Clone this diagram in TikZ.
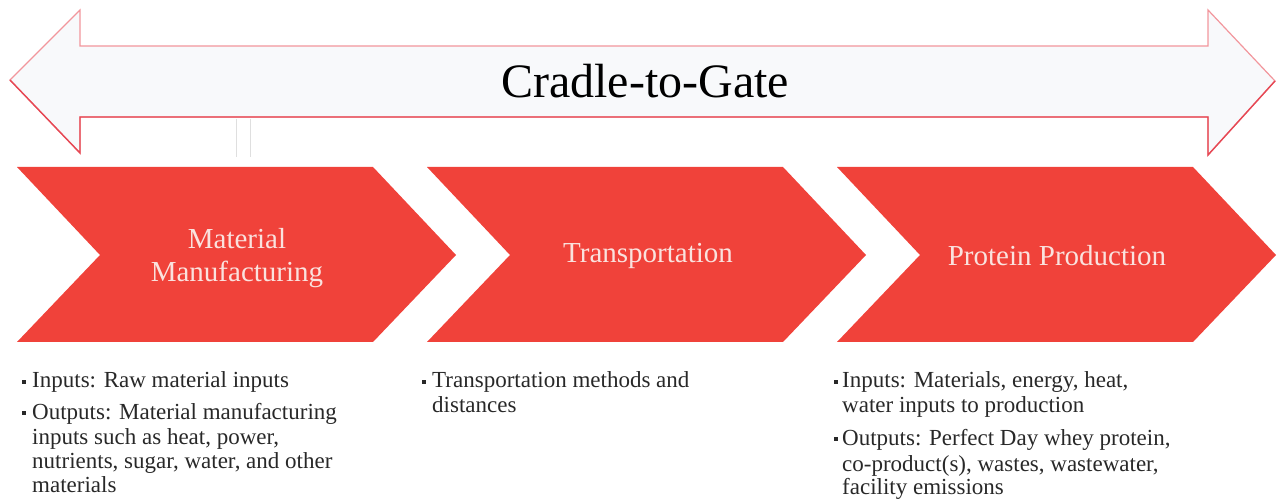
\documentclass[tikz,border=0pt]{standalone}
\usepackage{fontspec}
\setmainfont{Liberation Serif}
\definecolor{chev}{RGB}{240,66,58}
\definecolor{arrline}{RGB}{242,150,156}
\definecolor{arrdark}{RGB}{230,72,84}
\definecolor{arrfill}{RGB}{248,249,251}
\definecolor{chevtext}{RGB}{250,226,222}
\definecolor{bodytext}{RGB}{40,40,40}
\begin{document}
\begin{tikzpicture}[x=1pt,y=-1pt,
  chevron/.style={fill=chev,draw=none},
  chevlabel/.style={text=chevtext,font=\fontsize{29}{33}\selectfont,align=center,inner sep=0},
  bodyline/.style={text=bodytext,font=\fontsize{23}{25.5}\selectfont,anchor=base west,inner sep=0},
  bulletmark/.style={fill=bodytext,minimum size=3.6pt,inner sep=0,draw=none}
]
\useasboundingbox (0,0) rectangle (1277,502);
% double arrow
\draw[draw=arrline,fill=arrfill,line width=1.2pt,line join=miter]
  (10,80) -- (80,10) -- (80,46) -- (1208,46) -- (1208,10) -- (1275,81)
  -- (1208,155) -- (1208,117) -- (80,117) -- (80,153) -- cycle;
\draw[draw=arrdark,line width=1.4pt,line join=miter]
  (1275,81) -- (1208,155) -- (1208,117) -- (80,117) -- (80,153) -- (10,80);
\node[font=\fontsize{48}{52}\selectfont,anchor=base,inner sep=0] (title) at (645,98) {Cradle-to-Gate};
% faint marks
\draw[gray!25,line width=0.8pt] (236,119) -- (236,157);
\draw[gray!25,line width=0.8pt] (250,119) -- (250,157);
% chevrons
\foreach \i/\x in {1/17,2/427,3/837}{
  \fill[chevron] (\x,167) -- (\x+356,167) -- (\x+439,255) -- (\x+356,342) -- (\x,342) -- (\x+83,255) -- cycle;
}
\node[chevlabel] (c1) at (237,258) {Material\\Manufacturing};
\node[chevlabel] (c2) at (648,256) {Transportation};
\node[chevlabel] (c3) at (1057,256) {Protein Production};
% block 1
\node[bulletmark] (b1a) at (24,382) {};
\node[bodyline] (t1a) at (32,388) {Inputs: Raw material inputs};
\node[bulletmark] (b1b) at (24,413) {};
\node[bodyline] (t1b) at (32,419) {Outputs: Material manufacturing};
\node[bodyline] (t1c) at (32,444) {inputs such as heat, power,};
\node[bodyline] (t1d) at (32,468) {nutrients, sugar, water, and other};
\node[bodyline] (t1e) at (32,492) {materials};
% block 2
\node[bulletmark] (b2a) at (424,382) {};
\node[bodyline] (t2a) at (432,388) {Transportation methods and};
\node[bodyline] (t2b) at (432,413) {distances};
% block 3
\node[bulletmark] (b3a) at (836,382) {};
\node[bodyline] (t3a) at (842,388) {Inputs: Materials, energy, heat,};
\node[bodyline] (t3b) at (842,413) {water inputs to production};
\node[bulletmark] (b3b) at (836,439) {};
\node[bodyline] (t3c) at (842,445) {Outputs: Perfect Day whey protein,};
\node[bodyline] (t3d) at (842,471) {co-product(s), wastes, wastewater,};
\node[bodyline] (t3e) at (842,494) {facility emissions};
\end{tikzpicture}
\end{document}
